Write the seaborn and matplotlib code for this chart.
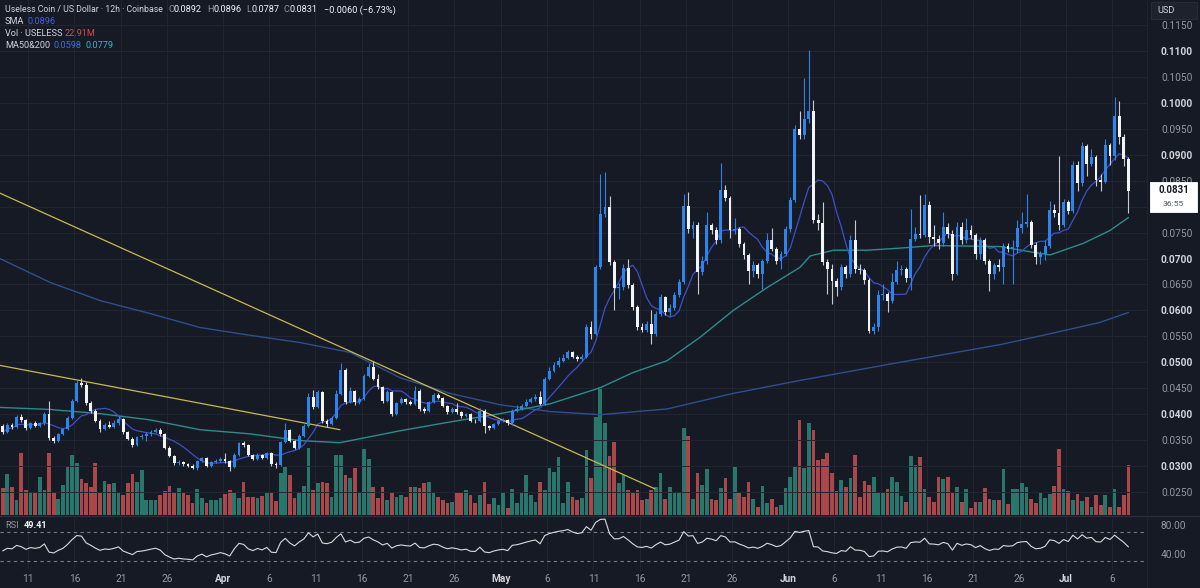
import numpy as np
import pandas as pd
import matplotlib
matplotlib.use("Agg")
import matplotlib.pyplot as plt
import seaborn as sns
from matplotlib.patches import Rectangle
from matplotlib.lines import Line2D

# ---- USELESS / USD, 12h candles ----
first_open = 0.0378

closes = [
    0.0365, 0.0379, 0.0376, 0.0395, 0.0388, 0.0373, 0.0382, 0.0378, 0.0382, 0.0400,
    0.0354, 0.0348, 0.0361, 0.0371, 0.0393, 0.0426, 0.0460, 0.0457, 0.0421, 0.0406,
    0.0387, 0.0371, 0.0379, 0.0376, 0.0382, 0.0390, 0.0365, 0.0353, 0.0340, 0.0355,
    0.0357, 0.0361, 0.0366, 0.0370, 0.0361, 0.0335, 0.0320, 0.0305, 0.0308, 0.0303,
    0.0301, 0.0297, 0.0309,
    0.0315, 0.0301, 0.0307, 0.0310, 0.0314, 0.0309, 0.0299, 0.0322, 0.0344, 0.0340,
    0.0322, 0.0314, 0.0322, 0.0316, 0.0325, 0.0304, 0.0302, 0.0346, 0.0370, 0.0349,
    0.0335, 0.0358, 0.0378, 0.0434, 0.0413, 0.0442, 0.0386, 0.0381, 0.0393, 0.0439,
    0.0485, 0.0423, 0.0445, 0.0423, 0.0429, 0.0474, 0.0490, 0.0468, 0.0452, 0.0426,
    0.0442, 0.0400, 0.0421,
    0.0429, 0.0423, 0.0420, 0.0445, 0.0410, 0.0407, 0.0423, 0.0436, 0.0432, 0.0416,
    0.0404, 0.0410, 0.0404, 0.0396, 0.0400, 0.0387, 0.0386, 0.0407, 0.0378, 0.0373,
    0.0381, 0.0386, 0.0389, 0.0382, 0.0407, 0.0410, 0.0416, 0.0423, 0.0429, 0.0434,
    0.0420, 0.0468, 0.0484, 0.0494, 0.0503, 0.0509, 0.0519, 0.0511, 0.0506, 0.0511,
    0.0568, 0.0555, 0.0683,
    0.0786, 0.0800, 0.0693, 0.0643, 0.0645, 0.0682, 0.0648, 0.0606, 0.0568, 0.0562,
    0.0574, 0.0555, 0.0593, 0.0625, 0.0597, 0.0605, 0.0629, 0.0654, 0.0802, 0.0757,
    0.0764, 0.0674, 0.0696, 0.0764, 0.0754, 0.0735, 0.0832, 0.0817, 0.0754, 0.0757,
    0.0728, 0.0706, 0.0676, 0.0687, 0.0671, 0.0696, 0.0735, 0.0719, 0.0696, 0.0709,
    0.0757, 0.0812, 0.0950, 0.0938,
    0.0968, 0.0985, 0.0774, 0.0768, 0.0693, 0.0680, 0.0656, 0.0645, 0.0683, 0.0671,
    0.0735, 0.0680, 0.0678, 0.0658, 0.0561, 0.0568, 0.0629, 0.0632, 0.0619, 0.0654,
    0.0677, 0.0680, 0.0663, 0.0738, 0.0748, 0.0745, 0.0804, 0.0741, 0.0738, 0.0730,
    0.0761, 0.0748, 0.0671, 0.0761, 0.0735, 0.0754, 0.0745, 0.0709, 0.0735, 0.0696,
    0.0671, 0.0687, 0.0683,
    0.0725, 0.0719, 0.0722, 0.0758, 0.0767, 0.0770, 0.0727, 0.0703, 0.0708, 0.0725,
    0.0794, 0.0788, 0.0764, 0.0809, 0.0792, 0.0880, 0.0846, 0.0917, 0.0882, 0.0896,
    0.0852, 0.0848, 0.0918, 0.0897, 0.0974, 0.0934, 0.0892, 0.0831,
]

highs = [
    0.0381, 0.0383, 0.0382, 0.0399, 0.0400, 0.0390, 0.0385, 0.0386, 0.0385, 0.0404,
    0.0426, 0.0357, 0.0364, 0.0374, 0.0396, 0.0430, 0.0466, 0.0470, 0.0462, 0.0425,
    0.0409, 0.0390, 0.0383, 0.0386, 0.0388, 0.0396, 0.0393, 0.0368, 0.0356, 0.0358,
    0.0362, 0.0366, 0.0370, 0.0374, 0.0373, 0.0363, 0.0338, 0.0322, 0.0311, 0.0310,
    0.0305, 0.0304, 0.0312,
    0.0318, 0.0317, 0.0310, 0.0313, 0.0317, 0.0325, 0.0311, 0.0325, 0.0347, 0.0349,
    0.0342, 0.0324, 0.0325, 0.0324, 0.0328, 0.0327, 0.0307, 0.0349, 0.0383, 0.0372,
    0.0351, 0.0361, 0.0381, 0.0440, 0.0446, 0.0446, 0.0445, 0.0390, 0.0396, 0.0447,
    0.0498, 0.0488, 0.0453, 0.0447, 0.0433, 0.0478, 0.0498, 0.0503, 0.0478, 0.0455,
    0.0446, 0.0444, 0.0424,
    0.0433, 0.0432, 0.0427, 0.0455, 0.0448, 0.0413, 0.0426, 0.0441, 0.0440, 0.0434,
    0.0418, 0.0413, 0.0422, 0.0407, 0.0403, 0.0402, 0.0390, 0.0411, 0.0409, 0.0380,
    0.0383, 0.0388, 0.0392, 0.0391, 0.0410, 0.0418, 0.0420, 0.0430, 0.0433, 0.0438,
    0.0444, 0.0472, 0.0490, 0.0500, 0.0510, 0.0515, 0.0523, 0.0522, 0.0514, 0.0515,
    0.0573, 0.0580, 0.0688,
    0.0862, 0.0866, 0.0820, 0.0698, 0.0652, 0.0690, 0.0700, 0.0652, 0.0610, 0.0575,
    0.0580, 0.0600, 0.0598, 0.0632, 0.0628, 0.0612, 0.0636, 0.0660, 0.0825, 0.0828,
    0.0772, 0.0770, 0.0705, 0.0790, 0.0768, 0.0760, 0.0884, 0.0842, 0.0820, 0.0778,
    0.0760, 0.0732, 0.0710, 0.0695, 0.0692, 0.0700, 0.0750, 0.0758, 0.0722, 0.0715,
    0.0762, 0.0818, 0.0958, 0.0985,
    0.1047, 0.1102, 0.1005, 0.0785, 0.0809, 0.0700, 0.0690, 0.0662, 0.0690, 0.0688,
    0.0745, 0.0774, 0.0690, 0.0682, 0.0662, 0.0575, 0.0640, 0.0650, 0.0636, 0.0672,
    0.0695, 0.0688, 0.0684, 0.0795, 0.0760, 0.0822, 0.0825, 0.0810, 0.0765, 0.0745,
    0.0790, 0.0768, 0.0755, 0.0770, 0.0770, 0.0778, 0.0765, 0.0750, 0.0742, 0.0740,
    0.0700, 0.0692, 0.0700,
    0.0730, 0.0730, 0.0735, 0.0775, 0.0790, 0.0825, 0.0775, 0.0732, 0.0715, 0.0735,
    0.0810, 0.0805, 0.0897, 0.0815, 0.0812, 0.0888, 0.0888, 0.0925, 0.0920, 0.0912,
    0.0900, 0.0862, 0.0930, 0.0922, 0.1012, 0.1004, 0.0940, 0.0896,
]

lows = [
    0.0362, 0.0363, 0.0372, 0.0374, 0.0385, 0.0370, 0.0371, 0.0375, 0.0376, 0.0380,
    0.0350, 0.0344, 0.0346, 0.0359, 0.0369, 0.0390, 0.0423, 0.0452, 0.0418, 0.0402,
    0.0384, 0.0366, 0.0369, 0.0373, 0.0374, 0.0380, 0.0362, 0.0350, 0.0336, 0.0338,
    0.0352, 0.0348, 0.0358, 0.0363, 0.0358, 0.0332, 0.0317, 0.0302, 0.0302, 0.0300,
    0.0298, 0.0294, 0.0292,
    0.0307, 0.0298, 0.0299, 0.0305, 0.0308, 0.0306, 0.0290, 0.0297, 0.0320, 0.0337,
    0.0319, 0.0311, 0.0312, 0.0313, 0.0314, 0.0301, 0.0297, 0.0300, 0.0344, 0.0346,
    0.0332, 0.0333, 0.0356, 0.0376, 0.0410, 0.0411, 0.0383, 0.0375, 0.0379, 0.0391,
    0.0437, 0.0420, 0.0421, 0.0418, 0.0420, 0.0427, 0.0471, 0.0465, 0.0449, 0.0422,
    0.0424, 0.0397, 0.0398,
    0.0419, 0.0420, 0.0417, 0.0418, 0.0406, 0.0403, 0.0405, 0.0421, 0.0429, 0.0413,
    0.0401, 0.0402, 0.0401, 0.0393, 0.0394, 0.0384, 0.0383, 0.0384, 0.0364, 0.0370,
    0.0371, 0.0379, 0.0384, 0.0380, 0.0380, 0.0404, 0.0408, 0.0414, 0.0421, 0.0426,
    0.0418, 0.0418, 0.0465, 0.0481, 0.0491, 0.0500, 0.0506, 0.0508, 0.0502, 0.0503,
    0.0509, 0.0545, 0.0552,
    0.0680, 0.0780, 0.0688, 0.0600, 0.0622, 0.0640, 0.0644, 0.0600, 0.0563, 0.0558,
    0.0558, 0.0535, 0.0550, 0.0590, 0.0592, 0.0590, 0.0600, 0.0625, 0.0650, 0.0750,
    0.0740, 0.0632, 0.0668, 0.0690, 0.0748, 0.0728, 0.0730, 0.0810, 0.0740, 0.0748,
    0.0722, 0.0700, 0.0650, 0.0664, 0.0662, 0.0642, 0.0692, 0.0714, 0.0690, 0.0680,
    0.0705, 0.0752, 0.0808, 0.0930,
    0.0930, 0.0962, 0.0768, 0.0755, 0.0688, 0.0632, 0.0613, 0.0628, 0.0640, 0.0662,
    0.0665, 0.0672, 0.0670, 0.0650, 0.0556, 0.0555, 0.0560, 0.0620, 0.0596, 0.0615,
    0.0650, 0.0668, 0.0655, 0.0640, 0.0734, 0.0740, 0.0742, 0.0730, 0.0725, 0.0718,
    0.0725, 0.0740, 0.0658, 0.0668, 0.0728, 0.0730, 0.0738, 0.0700, 0.0700, 0.0690,
    0.0638, 0.0660, 0.0675,
    0.0651, 0.0712, 0.0651, 0.0710, 0.0750, 0.0760, 0.0720, 0.0690, 0.0690, 0.0698,
    0.0720, 0.0780, 0.0755, 0.0760, 0.0785, 0.0788, 0.0830, 0.0840, 0.0860, 0.0878,
    0.0840, 0.0830, 0.0845, 0.0880, 0.0890, 0.0920, 0.0878, 0.0787,
]

# volume in millions
volumes = [
    12.4, 18.8, 12.8, 6.9, 28.4, 11.5, 10.5, 10.5, 17.4, 11.5, 28.4, 10.1, 7.3, 13.7, 22.4,
    27.5, 23.8, 16.5, 14.7, 12.8, 23.8, 10.1, 15.6, 14.2, 14.7, 10.5, 9.2, 14.7, 18.8, 15.1,
    20.6, 6.9, 6.9, 6.9, 9.2, 11.0, 13.3, 10.1, 12.4, 10.1, 9.2, 5.5, 11.9,
    7.8, 5.5, 6.9, 6.9, 7.8, 9.6, 11.5, 10.5, 7.8, 15.1, 8.2, 8.2, 7.8, 8.7, 10.1,
    10.5, 6.4, 19.2, 22.0, 18.3, 7.8, 10.5, 13.3, 30.7, 11.5, 14.7, 15.1, 14.7, 8.2, 27.5,
    27.5, 18.3, 16.9, 21.5, 10.1, 30.2, 25.6, 12.8, 7.8, 12.8, 6.9, 10.1, 8.2,
    9.2, 8.2, 12.8, 12.8, 12.4, 14.7, 15.1, 10.5, 8.2, 6.9, 5.5, 6.0, 10.1, 10.1, 11.5,
    9.2, 5.5, 9.2, 15.1, 5.0, 7.8, 4.6, 10.5, 3.2, 11.9, 5.5, 10.1, 18.3, 9.2, 6.0,
    15.1, 11.5, 21.5, 19.7, 26.6, 5.5, 15.1, 8.2, 6.9, 7.8, 29.8, 16.9, 44.9,
    58.6, 42.1, 27.0, 33.4, 14.7, 18.3, 11.5, 10.1, 11.5, 6.9, 7.3, 11.5, 12.8, 19.2, 7.3,
    12.8, 10.1, 10.5, 39.8, 36.2, 7.3, 19.2, 13.7, 21.1, 7.3, 6.9, 12.4, 16.9, 7.3, 22.0,
    10.1, 8.2, 15.1, 7.3, 3.7, 13.3, 5.5, 7.3, 3.7, 4.6, 12.4, 17.4, 22.0, 43.5,
    21.5, 42.1, 38.9, 25.2, 25.6, 28.4, 19.2, 11.0, 16.0, 12.8, 16.9, 27.5, 8.2, 15.6, 13.7,
    17.4, 10.5, 10.1, 11.9, 17.4, 15.1, 8.7, 6.0, 27.0, 22.9, 26.6, 11.9, 8.2, 6.0, 17.4,
    16.5, 17.4, 10.1, 12.8, 6.0, 11.9, 3.2, 6.0, 6.0, 12.4, 7.3, 6.9, 6.9,
    21.1, 5.0, 11.9, 11.9, 14.7, 12.8, 7.3, 5.5, 10.1, 7.8, 9.6, 13.3, 30.2, 11.9, 11.0,
    6.9, 9.6, 6.4, 8.2, 3.7, 9.2, 4.6, 9.2, 3.7, 11.9, 3.7, 9.2, 22.91,
]

# moving averages (sampled off the chart at candle positions)
ma50_idx = [-0.6, 10.2, 21, 31.8, 42.6, 53.4, 64.2, 72.8, 85.8, 96.6, 107.4, 118.2, 129,
            136, 143.4, 150.5, 157.7, 165, 172.1, 174.3, 179.3, 186.6, 193.7, 200.8,
            215.3, 222.4, 226.1, 233.2, 239, 243]
ma50_vals = [0.0413, 0.0409, 0.0401, 0.0389, 0.0370, 0.0362, 0.0349, 0.0345, 0.0368, 0.0385,
             0.0401, 0.0420, 0.0451, 0.0480, 0.0503, 0.0548, 0.0600, 0.0644, 0.0683, 0.0705,
             0.0716, 0.0716, 0.0720, 0.0725, 0.0723, 0.0712, 0.0707, 0.0729, 0.0754, 0.0779]
ma200_idx = [-0.6, 10.2, 21, 31.8, 42.6, 53.4, 64.2, 75, 85.8, 96.6, 107.4, 118.2, 129,
             143.4, 157.7, 172.1, 193.7, 215.3, 226.1, 236.9, 243]
ma200_vals = [0.0700, 0.0654, 0.0619, 0.0594, 0.0567, 0.0552, 0.0538, 0.0519, 0.0470, 0.0440,
              0.0418, 0.0405, 0.0399, 0.0410, 0.0440, 0.0465, 0.0500, 0.0534, 0.0555, 0.0577,
              0.0596]

# hand drawn trend lines
trend_upper_x, trend_upper_y = [-0.6, 140.8], [0.0826, 0.0256]
trend_lower_x, trend_lower_y = [-0.6, 72.8], [0.0494, 0.0370]

rsi_seed_gain, rsi_seed_loss = 0.00075, 0.00085

tick_days = ["2025-03-11", "2025-03-16", "2025-03-21", "2025-03-26", "2025-04-01", "2025-04-06",
             "2025-04-11", "2025-04-16", "2025-04-21", "2025-04-26", "2025-05-01", "2025-05-06",
             "2025-05-11", "2025-05-16", "2025-05-21", "2025-05-26", "2025-06-01", "2025-06-06",
             "2025-06-11", "2025-06-16", "2025-06-21", "2025-06-26", "2025-07-01", "2025-07-06"]
tick_labels = ["11", "16", "21", "26", "Apr", "6", "11", "16", "21", "26", "May", "6",
               "11", "16", "21", "26", "Jun", "6", "11", "16", "21", "26", "Jul", "6"]
price_levels = [0.0250, 0.0300, 0.0350, 0.0400, 0.0450, 0.0500, 0.0550, 0.0600, 0.0650, 0.0700,
                0.0750, 0.0800, 0.0850, 0.0900, 0.0950, 0.1000, 0.1050, 0.1100, 0.1150]

# ---- colours ----
BG = "#161a25"
GRID = "#222633"
TXT = "#b2b5be"
UP = "#2f84ea"
DOWN = "#f2f3f5"
VOL_UP = "#29776c"
VOL_DN = "#a9474a"

sns.set_theme(style="dark", rc={
    "figure.facecolor": BG, "axes.facecolor": BG, "axes.edgecolor": BG,
    "text.color": TXT, "xtick.color": TXT, "ytick.color": TXT,
    "patch.edgecolor": "none", "patch.linewidth": 0,
})
plt.rcParams["font.family"] = ["Roboto", "DejaVu Sans"]

W, H = 1200, 588
def box(x0, y0, x1, y1):
    return [x0 / W, 1 - y1 / H, (x1 - x0) / W, (y1 - y0) / H]
def fx(x):
    return x / W
def fy(y):
    return 1 - y / H

df = pd.DataFrame({"close": closes, "high": highs, "low": lows, "volume": volumes})
df["open"] = [first_open] + closes[:-1]
df["x"] = np.arange(len(df))
df["up"] = df["close"] >= df["open"]
df["high"] = np.maximum(df["high"], df[["open", "close"]].max(axis=1))
df["low"] = np.minimum(df["low"], df[["open", "close"]].min(axis=1))
df["sma"] = df["close"].rolling(9, min_periods=1).mean()

# RSI (Wilder, 14)
ag, al = rsi_seed_gain, rsi_seed_loss
rsi = []
for d in (df["close"] - df["open"]):
    ag = (ag * 13 + max(d, 0)) / 14
    al = (al * 13 + max(-d, 0)) / 14
    rsi.append(100 - 100 / (1 + ag / al))
df["rsi"] = rsi

start = pd.Timestamp("2025-03-08 00:00")
tick_pos = [(pd.Timestamp(d) - start) / pd.Timedelta("12h") - 0.5 for d in tick_days]
XMIN, XMAX = -0.58, 247.0

fig = plt.figure(figsize=(12, 5.88), dpi=100)

# volume (bottom layer)
axv = fig.add_axes(box(0, 0, 1147, 515))
axv.set_facecolor(BG)
for t in tick_pos:
    axv.axvline(t, color=GRID, lw=0.7, zorder=0)
axv.bar(df["x"], df["volume"], width=0.8, linewidth=0, edgecolor="none",
        color=np.where(df["up"], VOL_UP, VOL_DN), zorder=1)
axv.set_ylim(0, 22.91 * 515 / 50)
axv.set_xlim(XMIN, XMAX)
axv.set_xticks([])
axv.set_yticks([])
for s in axv.spines.values():
    s.set_visible(False)

# price
ax = axv.twinx()
ax.patch.set_visible(False)
for lv in price_levels:
    ax.axhline(lv, color=GRID, lw=0.7, zorder=0)
sns.lineplot(x=ma200_idx, y=ma200_vals, ax=ax, color="#2d4f8e", linewidth=1.0, zorder=1)
sns.lineplot(x=ma50_idx, y=ma50_vals, ax=ax, color="#2b8c8c", linewidth=1.0, zorder=1)
sns.lineplot(x=df["x"], y=df["sma"], ax=ax, color="#3e4fc9", linewidth=0.9, zorder=1)
ax.plot(trend_upper_x, trend_upper_y, color="#c9b94e", lw=0.9, zorder=2)
ax.plot(trend_lower_x, trend_lower_y, color="#c9b94e", lw=0.9, zorder=2)

cols = np.where(df["up"], UP, DOWN)
ax.vlines(df["x"], df["low"], df["high"], colors=np.where(df["up"], UP, "#c9cbd1"),
          lw=0.8, zorder=3)
body_lo = df[["open", "close"]].min(axis=1)
body_h = np.maximum((df["close"] - df["open"]).abs(), 0.00012)
ax.bar(df["x"], body_h, bottom=body_lo, width=0.62, color=cols, linewidth=0,
       edgecolor="none", zorder=4)

ax.set_xlim(XMIN, XMAX)
ax.set_ylim(0.02056, 0.11983)
ax.set_yticks(price_levels)
# the 0.0800 label sits under the last-price box, as in the original
ax.set_yticklabels(["" if abs(v - 0.08) < 1e-9 else f"{v:.4f}" for v in price_levels])
ax.tick_params(axis="y", length=0, pad=10, labelsize=7.3)
for lv, lab in zip(price_levels, ax.get_yticklabels()):
    if round(lv * 1000) % 10 == 0:
        lab.set_color("#d1d4dc")
        lab.set_fontweight("bold")
    else:
        lab.set_color("#9598a1")
for s in ax.spines.values():
    s.set_visible(False)
ax.set_ylabel("")

# RSI panel
axr = fig.add_axes(box(0, 517, 1147, 571))
axr.set_facecolor(BG)
for t in tick_pos:
    axr.axvline(t, color=GRID, lw=0.7, zorder=0)
axr.axhline(70, color="#787b86", lw=0.8, ls=(0, (3, 3)))
axr.axhline(30, color="#787b86", lw=0.8, ls=(0, (3, 3)))
sns.lineplot(x=df["x"], y=df["rsi"], ax=axr, color="#d8dae0", linewidth=0.8)
axr.set_xlim(XMIN, XMAX)
axr.set_ylim(16.0, 91.5)
axr.yaxis.tick_right()
axr.set_yticks([40, 80])
axr.set_yticklabels(["40.00", "80.00"])
axr.tick_params(axis="y", length=0, pad=10, labelsize=7.3, labelcolor="#9598a1")
axr.set_xticks(tick_pos)
axr.set_xticklabels(tick_labels)
axr.tick_params(axis="x", length=0, pad=2, labelsize=7.3)
for lab in axr.get_xticklabels():
    if lab.get_text().isalpha():
        lab.set_fontweight("bold")
        lab.set_color("#d1d4dc")
    else:
        lab.set_color("#9598a1")
axr.set_xlabel("")
axr.set_ylabel("")
for s in axr.spines.values():
    s.set_visible(False)

# separators
fig.add_artist(Line2D([0, 1], [fy(516), fy(516)], color="#2a2e39", lw=1.0))
fig.add_artist(Line2D([fx(1147), fx(1147)], [0, 1], color="#1f232e", lw=0.8))

# header legend
fs = 6.6
fig.text(fx(5), fy(10), "Useless Coin / US Dollar · 12h · Coinbase", fontsize=6.3,
         color="#d1d4dc", va="center")
for x0, k, v in [(168, "O", "0.0892"), (207, "H", "0.0896"),
                 (246, "L", "0.0787"), (284, "C", "0.0831")]:
    fig.text(fx(x0), fy(10), k, fontsize=fs, color="#9598a1", va="center")
    fig.text(fx(x0 + 6), fy(10), v, fontsize=fs, color="#f0f3fa", va="center")
fig.text(fx(324), fy(10), "−0.0060 (−6.73%)", fontsize=fs, color="#f0f3fa", va="center")
fig.text(fx(5), fy(22), "SMA", fontsize=fs, color="#d1d4dc", va="center")
fig.text(fx(28), fy(22), "0.0896", fontsize=fs, color="#4a5ee0", va="center")
fig.text(fx(5), fy(34), "Vol · USELESS", fontsize=fs, color="#d1d4dc", va="center")
fig.text(fx(65), fy(34), "22.91M", fontsize=fs, color="#e0474c", va="center")
fig.text(fx(5), fy(46), "MA50&200", fontsize=fs, color="#d1d4dc", va="center")
fig.text(fx(54), fy(46), "0.0598", fontsize=fs, color="#3f6fd8", va="center")
fig.text(fx(86), fy(46), "0.0779", fontsize=fs, color="#33b8d0", va="center")
fig.text(fx(5), fy(525), "RSI", fontsize=fs, color="#9598a1", va="center")
fig.text(fx(24), fy(525), "49.41", fontsize=fs, color="#f0f3fa", va="center",
         fontweight="bold")

# right scale boxes
fig.add_artist(Rectangle((fx(1151), fy(19)), fx(46), 17 / H, facecolor="#1e222d",
                         edgecolor="#2a2e39", lw=0.6))
fig.text(fx(1157), fy(10.5), "USD", fontsize=6.6, color="#d1d4dc", va="center")
fig.add_artist(Rectangle((fx(1150), fy(212)), fx(47), 30 / H, facecolor="#ffffff",
                         edgecolor="#ffffff", lw=0.6))
fig.text(fx(1173.5), fy(190), "0.0831", fontsize=7.0, color="#131722", va="center",
         ha="center", fontweight="bold")
fig.text(fx(1173.5), fy(204.5), "36:55", fontsize=6.1, color="#50535e", va="center",
         ha="center")

fig.savefig("out.png", dpi=100, facecolor=BG)
